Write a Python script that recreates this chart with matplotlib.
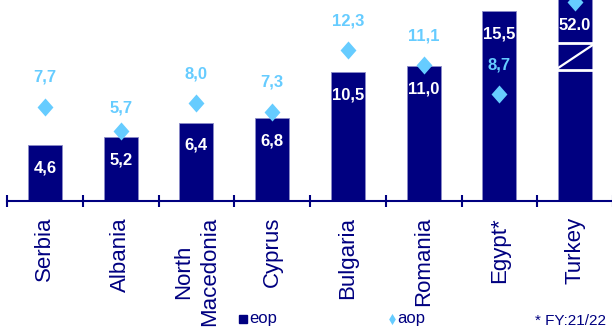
import matplotlib
matplotlib.use("Agg")
import matplotlib.pyplot as plt
from matplotlib.lines import Line2D
import numpy as np

# inflation by country: end of period (bars) and average of period (diamonds)
countries = ["Serbia", "Albania", "North\nMacedonia", "Cyprus",
             "Bulgaria", "Romania", "Egypt*", "Turkey"]
eop = [4.6, 5.2, 6.4, 6.8, 10.5, 11.0, 15.5, 52.0]
aop = [7.7, 5.7, 8.0, 7.3, 12.3, 11.1, 8.7, 72.3]
aop_shown = [True, True, True, True, True, True, True, False]
broken = 7  # Turkey is drawn with a cut bar

NAVY = "#000080"
LIGHT = "#66CCFF"
FONT = ["Liberation Sans", "DejaVu Sans"]

W, H = 612, 333
fig = plt.figure(figsize=(W / 100, H / 100), dpi=100)
ax = fig.add_axes([7 / W, (H - 201) / H, 606 / W, 201 / H])

x = np.arange(len(countries))
ymax = 16.4
cap = 16.2
bar_w = 0.45

ax.bar(x, eop, width=bar_w, color=NAVY, edgecolor="#8c8cc8", linewidth=0.6, zorder=2)

diamond = [(0, 1), (0.88, 0), (0, -1), (-0.88, 0), (0, 1)]
ax.plot(x, np.minimum(aop, cap), ls="none", marker=diamond, ms=13,
        color=LIGHT, markeredgewidth=0, zorder=4)

# break marks on the clipped bar
xl, xr = broken - bar_w / 2 - 0.01, broken + bar_w / 2 + 0.01
ax.plot([xl, xr], [12.9, 12.9], color="white", lw=2.0, zorder=3, solid_capstyle="butt")
ax.plot([xl, xr], [10.65, 10.65], color="white", lw=2.0, zorder=3, solid_capstyle="butt")
ax.plot([xl + 0.01, xr - 0.01], [10.85, 12.7], color="white", lw=1.6, zorder=3)

for i, v in enumerate(eop):
    lbl = f"{v:.1f}"
    if i != broken:
        lbl = lbl.replace(".", ",")
    ax.annotate(lbl, (i, min(v, cap)), xytext=(0, -16.5), textcoords="offset points",
                ha="center", va="center", color="white", fontsize=12,
                fontweight="bold", family=FONT, zorder=5)

for i, v in enumerate(aop):
    if not aop_shown[i]:
        continue
    dy = 16.5 if countries[i] == "Albania" else 21
    ax.annotate(f"{v:.1f}".replace(".", ","), (i, v), xytext=(0, dy),
                textcoords="offset points", ha="center", va="center",
                color=LIGHT, fontsize=12, fontweight="bold", family=FONT, zorder=5)

ax.set_xlim(-0.5, len(countries) - 0.5)
ax.set_ylim(0, ymax)
ax.set_yticks([])
for s in ("top", "left", "right"):
    ax.spines[s].set_visible(False)
ax.spines["bottom"].set_color(NAVY)
ax.spines["bottom"].set_linewidth(1.5)

ax.set_xticks(np.arange(len(countries) + 1) - 0.5)
ax.set_xticklabels([])
ax.tick_params(axis="x", which="major", direction="inout", length=9,
               width=1.5, color=NAVY)
ax.set_xticks(x, minor=True)
ax.set_xticklabels(countries, minor=True, rotation=90, color=NAVY,
                   fontsize=16, family=FONT, linespacing=1.3)
ax.tick_params(axis="x", which="minor", length=0, pad=11.5)

# legend and footnote
fig.add_artist(Line2D([243 / W], [1 - 319 / H], marker="s", ms=6.3, color=NAVY,
                      transform=fig.transFigure))
fig.text(249 / W, 1 - 319 / H, "eop", ha="left", va="center", color=NAVY,
         fontsize=12, family=FONT)
fig.add_artist(Line2D([392 / W], [1 - 319 / H], marker=[(0, 1), (0.6, 0), (0, -1), (-0.6, 0), (0, 1)],
                      ms=8, color=LIGHT, markeredgewidth=0, transform=fig.transFigure))
fig.text(397 / W, 1 - 319 / H, "aop", ha="left", va="center", color=NAVY,
         fontsize=12, family=FONT)
fig.text(535 / W, 1 - 321 / H, "* FY:21/22", ha="left", va="center", color=NAVY,
         fontsize=11, family=FONT)

fig.savefig("out.png", dpi=100, facecolor="white")
